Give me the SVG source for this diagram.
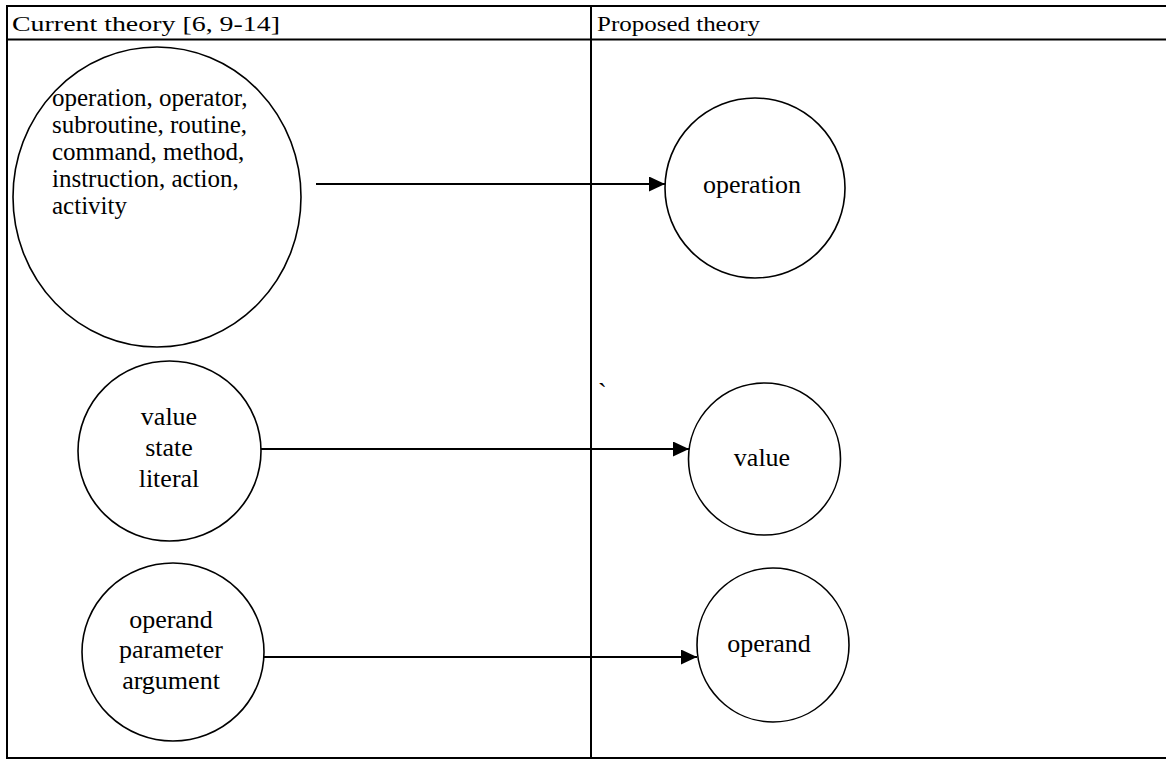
<svg xmlns="http://www.w3.org/2000/svg" width="1166" height="759" viewBox="0 0 1166 759">
<style>
.grid{stroke:#000;stroke-width:2;fill:none}
.node{fill:#fff;stroke:#000;stroke-width:1.6}
.lbl{font-family:"Liberation Serif","Times New Roman",serif;font-size:26px;fill:#000}
.big{font-size:25px}
.hdr{font-family:"Liberation Serif","DejaVu Serif",serif;font-size:22px;fill:#000}
.edge{stroke:#000;stroke-width:2.2;fill:none}
</style>
<defs>
<marker id="ah" viewBox="0 0 16 15" refX="16" refY="7.5" markerWidth="16" markerHeight="15" markerUnits="userSpaceOnUse" orient="auto">
<path d="M0,0 L16,7.5 L0,15 z" fill="#000"/>
</marker>
</defs>
<g id="table">
<line class="grid" x1="6" y1="6" x2="1166" y2="6"/>
<line class="grid" x1="6" y1="39.5" x2="1166" y2="39.5"/>
<line class="grid" x1="6" y1="758" x2="1166" y2="758"/>
<line class="grid" x1="7" y1="5" x2="7" y2="759"/>
<line class="grid" x1="591" y1="5" x2="591" y2="759"/>
<text class="hdr" x="12" y="31" textLength="268" lengthAdjust="spacingAndGlyphs">Current theory [6, 9-14]</text>
<text class="hdr" x="597" y="31" textLength="163" lengthAdjust="spacingAndGlyphs">Proposed theory</text>
</g>
<g id="connectors">
<line class="edge" x1="316" y1="184" x2="665" y2="184" marker-end="url(#ah)"/>
<line class="edge" x1="261" y1="449" x2="689" y2="449" marker-end="url(#ah)"/>
<line class="edge" x1="264" y1="657" x2="697" y2="657" marker-end="url(#ah)"/>
</g>
<g id="n-current-operation">
<ellipse class="node" cx="157" cy="197" rx="144" ry="150"/>
<text class="lbl big"><tspan x="52" y="106">operation, operator,</tspan><tspan x="52" y="133">subroutine, routine,</tspan><tspan x="52" y="160">command, method,</tspan><tspan x="52" y="187">instruction, action,</tspan><tspan x="52" y="214">activity</tspan></text>
</g>
<g id="n-current-value">
<ellipse class="node" cx="169.5" cy="451" rx="91.5" ry="90"/>
<text class="lbl" text-anchor="middle"><tspan x="169" y="425">value</tspan><tspan x="169" y="456">state</tspan><tspan x="169" y="487">literal</tspan></text>
</g>
<g id="n-current-operand">
<ellipse class="node" cx="173" cy="652" rx="91" ry="89"/>
<text class="lbl" text-anchor="middle"><tspan x="171" y="628">operand</tspan><tspan x="171" y="658">parameter</tspan><tspan x="171" y="689">argument</tspan></text>
</g>
<g id="n-proposed-operation">
<circle class="node" cx="755" cy="188" r="90"/>
<text class="lbl" x="752" y="193" text-anchor="middle">operation</text>
</g>
<g id="n-proposed-value">
<ellipse class="node" cx="764.5" cy="459" rx="76" ry="76"/>
<text class="lbl" x="762" y="466" text-anchor="middle">value</text>
</g>
<g id="n-proposed-operand">
<ellipse class="node" cx="773" cy="645" rx="76" ry="77"/>
<text class="lbl" x="769" y="652" text-anchor="middle">operand</text>
</g>
<text class="lbl" x="598" y="401" font-size="18">`</text>
</svg>
